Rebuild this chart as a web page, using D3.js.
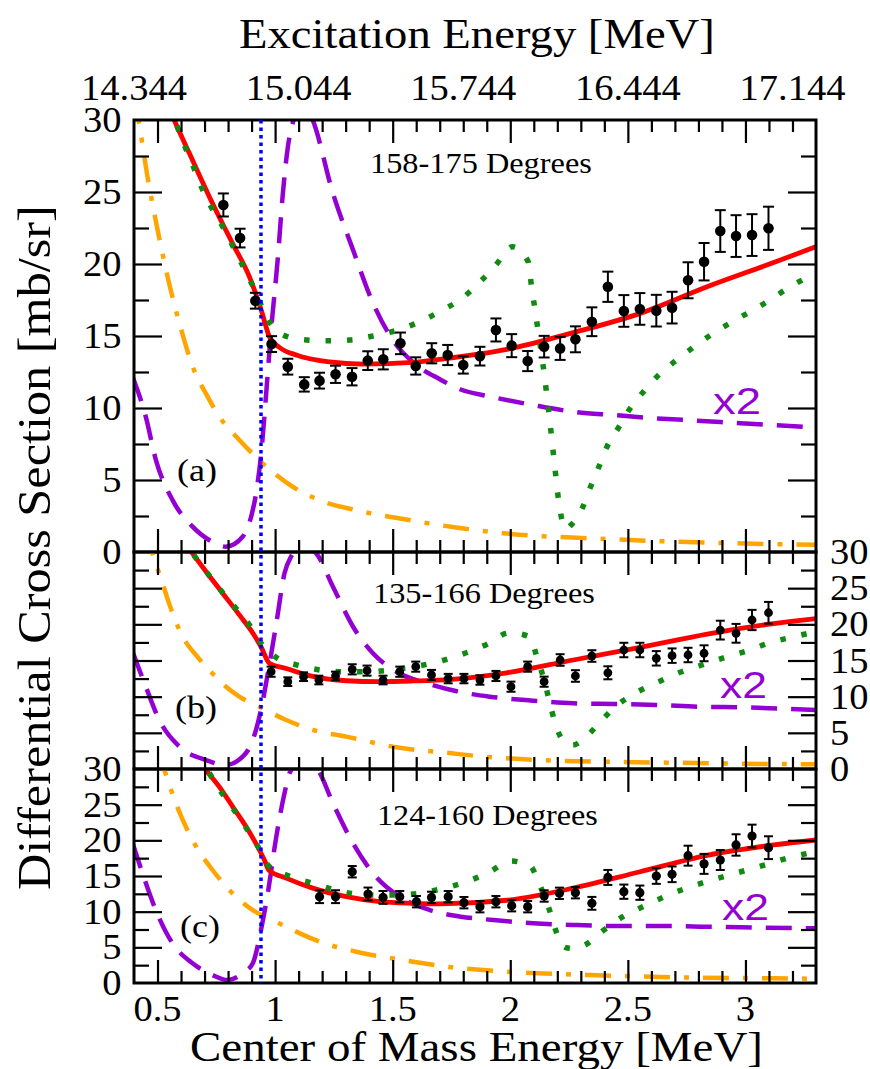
<!DOCTYPE html>
<html><head><meta charset="utf-8">
<script src="https://cdn.jsdelivr.net/npm/d3@7"></script>
<style>body{margin:0;background:#fff}</style>
</head><body><svg id="chart" width="870" height="1069"></svg>
<script>
// ---------------- DATA ----------------
const exOffset = 13.944;                 // Excitation energy = Ecm + offset
const topTickValues = [14.344, 15.044, 15.744, 16.444, 17.144];
const bottomTickValues = [0.5, 1, 1.5, 2, 2.5, 3];
const yTickValues = [0, 5, 10, 15, 20, 25, 30];
const thresholdE = 0.94;
const panelTitles = ["158-175 Degrees", "135-166 Degrees", "124-160 Degrees"];
const panelTags = ["(a)", "(b)", "(c)"];
const scaleNote = "x2";

// panel (a)
const xA = [0.78,0.851,0.916,0.985,1.054,1.124,1.189,1.257,1.327,1.394,1.46,1.533,1.598,1.666,1.734,1.80,1.871,1.939,2.006,2.074,2.144,2.212,2.277,2.347,2.415,2.483,2.551,2.621,2.688,2.756,2.824,2.893,2.96,3.028,3.098];
const yA = [24.1,21.8,17.45,14.44,12.87,11.64,11.9,12.34,12.17,13.29,13.38,14.49,12.92,13.8,13.68,12.99,13.6,15.42,14.33,13.26,14.26,14.14,14.77,15.99,18.42,16.74,16.88,16.76,16.97,18.87,20.16,22.29,21.94,22.01,22.48];
const errA = [0.8,0.65,0.55,0.55,0.55,0.5,0.55,0.6,0.6,0.65,0.7,0.75,0.6,0.7,0.7,0.6,0.65,0.8,0.8,0.7,0.75,0.8,0.9,1.0,1.05,1.1,1.1,1.1,1.1,1.25,1.3,1.45,1.45,1.45,1.5];
const redA = [[0.53,31.6],[0.571,30],[0.635,27.7],[0.734,24.2],[0.82,21.4],[0.891,19.1],[0.941,16.8],[0.976,14.95],[1.019,14.2],[1.09,13.68],[1.232,13.2],[1.374,13.05],[1.587,13.17],[1.70,13.38],[1.985,14.07],[2.268,15.23],[2.552,16.57],[2.837,18.42],[3.12,20.1],[3.30,21.2]];
const greenA = [[0.55,31],[0.573,30],[0.613,28.3],[0.649,26.9],[0.685,25.4],[0.727,24.0],[0.777,22.6],[0.834,20.8],[0.877,19.4],[0.919,18.0],[0.955,16.6],[1.011,15.3],[1.104,14.77],[1.21,14.67],[1.317,14.72],[1.416,15.0],[1.523,15.42],[1.615,15.99],[1.708,16.76],[1.793,17.6],[1.868,18.7],[1.935,19.86],[2.01,21.2],[2.075,20.2],[2.09,18.5],[2.117,15.5],[2.144,12.4],[2.166,9.4],[2.187,6.27],[2.209,3.19],[2.235,1.6],[2.26,1.9],[2.304,2.96],[2.337,4.35],[2.374,5.8],[2.41,7.27],[2.46,8.63],[2.51,9.98],[2.57,11.2],[2.638,12.4],[2.717,13.45],[2.797,14.44],[2.879,15.35],[2.965,16.18],[3.057,17.03],[3.203,18.54],[3.30,19.4]];
const purpleA = [[0.394,12.17],[0.45,9.4],[0.493,6.4],[0.564,3.6],[0.649,1.76],[0.734,0.7],[0.79,0.37],[0.862,1.06],[0.898,2.45],[0.919,4.07],[0.945,7.55],[0.962,11.0],[0.983,15.4],[1.011,20.3],[1.033,24.9],[1.054,28.1],[1.075,29.8],[1.10,30.8],[1.13,31.0],[1.16,30],[1.246,24.9],[1.331,21.0],[1.416,17.3],[1.501,14.7],[1.60,13.0],[1.70,12.0],[1.786,11.3],[1.913,10.8],[2.098,10.2],[2.268,9.74],[2.439,9.51],[2.623,9.28],[2.794,9.12],[2.98,8.94],[3.30,8.65]];
const orangeA = [[0.40,31.5],[0.42,29.9],[0.457,26.1],[0.5,22.4],[0.543,19.1],[0.593,15.9],[0.656,12.6],[0.706,11.0],[0.763,9.4],[0.848,7.78],[0.947,6.16],[1.075,4.53],[1.189,3.6],[1.345,2.9],[1.587,2.17],[1.77,1.7],[2.055,1.18],[2.34,0.95],[2.695,0.72],[3.12,0.55],[3.30,0.5]];

// panel (b)
const xB = [0.983,1.054,1.121,1.186,1.257,1.328,1.391,1.459,1.53,1.598,1.665,1.736,1.803,1.871,1.939,2.003,2.074,2.144,2.212,2.277,2.347,2.415,2.483,2.551,2.621,2.688,2.756,2.824,2.893,2.96,3.028,3.098];
const yB = [13.45,12.07,12.76,12.3,12.86,13.78,13.6,12.3,13.45,14.15,13.0,12.5,12.5,12.3,12.86,11.38,14.15,12.07,15.07,12.86,15.62,13.3,16.45,16.45,15.3,15.67,15.76,16.0,19.2,18.76,20.6,21.6];
const errB = [0.7,0.6,0.6,0.6,0.6,0.7,0.7,0.6,0.7,0.7,0.7,0.65,0.65,0.65,0.7,0.7,0.7,0.7,0.8,0.8,0.8,0.9,1.0,1.0,1.0,1.0,1.0,1.1,1.3,1.3,1.4,1.5];
const redB = [[0.60,32],[0.649,29.8],[0.706,27.3],[0.777,24.3],[0.848,21.3],[0.905,18.8],[0.94,16.9],[0.976,14.6],[1.047,13.9],[1.16,12.8],[1.303,12.2],[1.445,12.07],[1.587,12.17],[1.75,12.4],[1.985,13.3],[2.268,15.07],[2.552,16.8],[2.837,18.66],[3.12,20.1],[3.30,20.8]];
const greenB = [[0.60,32],[0.651,29.7],[0.713,27.05],[0.774,24.5],[0.837,22.1],[0.898,19.6],[0.947,17.1],[1.011,15.3],[1.09,14.4],[1.189,13.7],[1.303,13.45],[1.402,13.45],[1.509,13.78],[1.608,14.24],[1.712,15.0],[1.807,16.0],[1.904,17.28],[1.996,18.85],[2.081,18.3],[2.115,15.3],[2.143,12.4],[2.166,9.45],[2.19,6.4],[2.229,3.78],[2.265,3.3],[2.311,4.1],[2.379,6.4],[2.45,8.7],[2.535,10.55],[2.623,11.93],[2.716,13.3],[2.815,14.38],[2.915,15.44],[3.01,16.36],[3.109,17.52],[3.209,18.3],[3.30,19.0]];
const purpleB = [[0.394,16.2],[0.45,11.4],[0.507,6.8],[0.593,3.1],[0.706,1.24],[0.79,0.55],[0.862,1.7],[0.905,4.0],[0.94,8.2],[0.969,13.2],[1.005,20.1],[1.04,27.05],[1.07,29.5],[1.10,30.6],[1.14,30.6],[1.175,29.8],[1.246,25.2],[1.331,19.7],[1.416,16.0],[1.516,13.45],[1.644,11.85],[1.786,10.65],[1.913,10.0],[2.098,9.45],[2.268,9.08],[2.439,8.99],[2.623,8.85],[2.808,8.6],[2.98,8.53],[3.30,8.16]];
const orangeB = [[0.45,33],[0.479,29.8],[0.521,25.7],[0.55,22.8],[0.607,18.3],[0.67,15.5],[0.734,13.2],[0.79,11.4],[0.848,10.0],[0.933,8.6],[1.047,6.77],[1.16,5.4],[1.303,4.47],[1.516,3.0],[1.75,2.17],[1.857,1.8],[2.127,1.24],[2.41,1.0],[2.694,0.87],[3.12,0.69],[3.30,0.65]];

// panel (c)
const xC = [1.189,1.257,1.328,1.395,1.459,1.53,1.601,1.665,1.736,1.803,1.871,1.939,2.006,2.074,2.144,2.209,2.277,2.347,2.415,2.483,2.551,2.621,2.688,2.756,2.824,2.893,2.96,3.028,3.098];
const yC = [12.1,12.1,15.6,12.48,12.0,12.1,11.4,12.0,12.1,11.26,10.7,11.4,10.84,10.7,12.2,12.57,12.66,11.17,14.8,12.8,12.66,15.0,15.24,17.85,16.7,17.24,19.35,20.6,18.97];
const errC = [0.9,0.9,0.8,0.9,0.9,0.8,0.8,0.8,0.8,0.8,0.8,0.8,0.8,0.8,0.8,0.8,0.8,0.9,1.05,1.0,1.0,1.1,1.1,1.4,1.4,1.4,1.5,1.6,1.6];
const redC = [[0.66,32],[0.706,29.86],[0.763,27.5],[0.82,24.7],[0.877,21.9],[0.926,19.1],[0.955,17.2],[0.973,15.85],[1.047,14.7],[1.16,13.3],[1.303,12.1],[1.445,11.4],[1.587,11.17],[1.70,11.1],[1.985,11.6],[2.268,13.3],[2.552,15.6],[2.837,17.9],[3.12,19.35],[3.30,20.05]];
const greenC = [[0.67,32],[0.712,29.86],[0.763,27.15],[0.82,24.5],[0.874,21.9],[0.926,19.2],[0.973,16.4],[1.068,14.9],[1.168,13.9],[1.303,12.66],[1.402,12.34],[1.509,12.34],[1.615,12.57],[1.714,13.27],[1.814,14.2],[1.913,15.6],[2.002,17.1],[2.084,16.4],[2.127,13.6],[2.162,10.7],[2.19,7.67],[2.233,5.0],[2.275,4.8],[2.318,5.33],[2.394,7.33],[2.479,9.3],[2.57,10.8],[2.663,12.2],[2.758,13.4],[2.858,14.44],[2.957,15.38],[3.057,16.3],[3.213,17.8],[3.30,18.4]];
const purpleC = [[0.394,19.6],[0.436,15.4],[0.493,10.2],[0.564,5.56],[0.649,2.76],[0.734,1.12],[0.798,0.42],[0.862,1.36],[0.905,2.76],[0.94,7.43],[0.969,12.6],[1.005,20.5],[1.04,26.6],[1.061,29.4],[1.10,30.8],[1.15,30.8],[1.182,29.86],[1.246,25.2],[1.331,19.6],[1.416,15.4],[1.53,12.1],[1.658,10.23],[1.79,9.3],[1.928,8.83],[2.098,8.37],[2.268,8.13],[2.439,8.0],[2.623,8.0],[2.808,7.9],[2.98,7.8],[3.30,7.67]];
const orangeC = [[0.50,32.5],[0.529,29.86],[0.578,25.2],[0.656,19.6],[0.734,15.84],[0.806,13.0],[0.905,10.23],[0.99,8.83],[1.075,7.43],[1.189,5.8],[1.345,4.39],[1.587,2.99],[1.75,2.2],[1.842,1.92],[2.055,1.45],[2.34,1.12],[2.694,0.8],[3.12,0.66],[3.30,0.6]];

// ---------------- DRAWING ----------------
const svg = d3.select("#chart");
const SERIF = "'Liberation Serif','Times New Roman',Times,serif";
const SANS = "'Liberation Sans',Arial,Helvetica,sans-serif";
const x = d3.scaleLinear().domain([0.4, 3.3]).range([134, 816]);
const xTop = d3.scaleLinear().domain([0.4 + exOffset, 3.3 + exOffset]).range(x.range());

function label(g, txt, px, py, o) {
  const t = g.append("text").text(txt)
    .attr("font-family", o.family || SERIF)
    .attr("font-size", o.size)
    .attr("fill", o.fill || "#000")
    .attr("text-anchor", o.anchor || "start");
  let sx = o.sx || 1;
  if (o.width) sx = o.width / t.node().getComputedTextLength();
  t.attr("transform", `translate(${px},${py})${o.rotate ? ` rotate(${o.rotate})` : ""} scale(${sx},1)`);
  return t;
}

const panels = [
  {top:120, bottom:552, red:redA, green:greenA, purple:purpleA, orange:orangeA, px:xA, py:yA, pe:errA, r:5.3, cap:5.5,
   left:true, right:false, title:[370,173,222], tag:[177,481,40], note:[713,414,48]},
  {top:552, bottom:769, red:redB, green:greenB, purple:purpleB, orange:orangeB, px:xB, py:yB, pe:errB, r:4.4, cap:4.5,
   left:false, right:true, title:[373,603,222], tag:[175,718,42], note:[720,698,47]},
  {top:769, bottom:983, red:redC, green:greenC, purple:purpleC, orange:orangeC, px:xC, py:yC, pe:errC, r:4.6, cap:4.5,
   left:true, right:false, title:[377,825,221], tag:[180,937,40], note:[722,920,47]}
];

const majorX = bottomTickValues;
const minorX = d3.range(5, 33).map(i => i / 10).filter(v => Math.abs(v * 2 - Math.round(v * 2)) > 1e-6);
const majorY = [5, 10, 15, 20, 25];
const minorY = [2.5, 7.5, 12.5, 17.5, 22.5, 27.5];

const defs = svg.append("defs");
const TICK_FS = 35, TICK_SX = 1.1;

panels.forEach((p, i) => {
  const y = d3.scaleLinear().domain([0, 30]).range([p.bottom, p.top]);
  const cid = "clip" + i;
  defs.append("clipPath").attr("id", cid).append("rect")
    .attr("x", x(0.4)).attr("y", p.top).attr("width", x(3.3) - x(0.4)).attr("height", p.bottom - p.top);
  const g = svg.append("g").attr("clip-path", `url(#${cid})`);
  const line = d3.line().x(d => x(d[0])).y(d => y(d[1])).curve(d3.curveMonotoneX);

  g.append("path").attr("d", line(p.orange)).attr("fill", "none").attr("stroke", "#ffa500")
    .attr("stroke-width", 4.5).attr("stroke-dasharray", "26,14,5,14");
  g.append("path").attr("d", line(p.purple)).attr("fill", "none").attr("stroke", "#9400d3")
    .attr("stroke-width", 4.5).attr("stroke-dasharray", "26,14");
  g.append("path").attr("d", line(p.red)).attr("fill", "none").attr("stroke", "#ff0000")
    .attr("stroke-width", 4.8);
  g.append("path").attr("d", line(p.green)).attr("fill", "none").attr("stroke", "#118a11")
    .attr("stroke-width", 5.5).attr("stroke-dasharray", "5.5,16");

  // data points with error bars
  const pts = svg.append("g");
  const data = p.px.map((v, k) => ({x: v, y: p.py[k], e: p.pe[k]}));
  const pg = pts.selectAll("g").data(data).join("g");
  pg.append("line").attr("x1", d => x(d.x)).attr("x2", d => x(d.x))
    .attr("y1", d => y(d.y - d.e)).attr("y2", d => y(d.y + d.e)).attr("stroke", "#000").attr("stroke-width", 2);
  pg.append("line").attr("x1", d => x(d.x) - p.cap).attr("x2", d => x(d.x) + p.cap)
    .attr("y1", d => y(d.y - d.e)).attr("y2", d => y(d.y - d.e)).attr("stroke", "#000").attr("stroke-width", 2);
  pg.append("line").attr("x1", d => x(d.x) - p.cap).attr("x2", d => x(d.x) + p.cap)
    .attr("y1", d => y(d.y + d.e)).attr("y2", d => y(d.y + d.e)).attr("stroke", "#000").attr("stroke-width", 2);
  pg.append("circle").attr("cx", d => x(d.x)).attr("cy", d => y(d.y)).attr("r", p.r).attr("fill", "#000");

  // frame
  svg.append("rect").attr("x", x(0.4)).attr("y", p.top).attr("width", x(3.3) - x(0.4)).attr("height", p.bottom - p.top)
    .attr("fill", "none").attr("stroke", "#000").attr("stroke-width", 3);

  // ticks (inward) via d3 axes
  const ax = svg.append("g");
  const tk = (gen, tr) => ax.append("g").attr("transform", tr).call(gen)
    .call(s => s.select(".domain").remove())
    .call(s => s.selectAll(".tick line").attr("stroke-width", 2.2));
  tk(d3.axisBottom(x).tickValues(minorX).tickSize(-12).tickFormat(() => ""), `translate(0,${p.bottom})`);
  tk(d3.axisBottom(x).tickValues(majorX).tickSize(-23).tickFormat(() => ""), `translate(0,${p.bottom})`);
  tk(d3.axisTop(x).tickValues(minorX).tickSize(-12).tickFormat(() => ""), `translate(0,${p.top})`);
  tk(d3.axisTop(x).tickValues(majorX).tickSize(-23).tickFormat(() => ""), `translate(0,${p.top})`);
  tk(d3.axisLeft(y).tickValues(minorY).tickSize(-15).tickFormat(() => ""), `translate(${x(0.4)},0)`);
  tk(d3.axisLeft(y).tickValues(majorY).tickSize(-28).tickFormat(() => ""), `translate(${x(0.4)},0)`);
  tk(d3.axisRight(y).tickValues(minorY).tickSize(-15).tickFormat(() => ""), `translate(${x(3.3)},0)`);
  tk(d3.axisRight(y).tickValues(majorY).tickSize(-28).tickFormat(() => ""), `translate(${x(3.3)},0)`);

  // y tick labels
  const tl = svg.append("g");
  if (p.left) yTickValues.forEach(v => label(tl, String(v), 121.5, y(v) + 12, {size: TICK_FS, anchor: "end", sx: TICK_SX}));
  if (p.right) yTickValues.forEach(v => label(tl, String(v), 830, y(v) + 12, {size: TICK_FS, anchor: "start", sx: TICK_SX}));

  // annotations
  label(svg, panelTitles[i], p.title[0], p.title[1], {size: 30, width: p.title[2]});
  label(svg, panelTags[i], p.tag[0], p.tag[1], {size: 31, width: p.tag[2]});
  label(svg, scaleNote, p.note[0], p.note[1], {size: 37, family: SANS, fill: "#9400d3", width: p.note[2]});
});

// threshold line
svg.append("line").attr("x1", x(thresholdE)).attr("x2", x(thresholdE))
  .attr("y1", panels[0].top).attr("y2", panels[2].bottom)
  .attr("stroke", "#0000ff").attr("stroke-width", 3.5).attr("stroke-dasharray", "3.5,4");

// x tick labels
const xl = svg.append("g");
bottomTickValues.forEach(v => label(xl, String(v), x(v), 1021, {size: TICK_FS, anchor: "middle", sx: TICK_SX}));
topTickValues.forEach(v => label(xl, d3.format(".3f")(v), xTop(v), 100, {size: TICK_FS, anchor: "middle", sx: TICK_SX}));

// axis titles
label(svg, "Excitation Energy [MeV]", 239, 48, {size: 42, width: 476});
label(svg, "Center of Mass Energy [MeV]", 190, 1061, {size: 42, width: 573});
label(svg, "Differential Cross Section [mb/sr]", 50, 890, {size: 46, width: 685, rotate: -90});
</script></body></html>
